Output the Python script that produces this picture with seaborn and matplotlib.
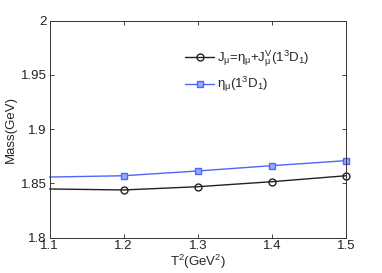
import matplotlib
matplotlib.use("Agg")
import matplotlib.pyplot as plt
import seaborn as sns
import pandas as pd

T2 = [1.1, 1.2, 1.3, 1.4, 1.5]
mass_J = [1.8449, 1.8440, 1.8470, 1.8516, 1.8571]
mass_eta = [1.8559, 1.8571, 1.8615, 1.8664, 1.8710]
label_J = r"J$_\mu$=$\eta_\mu$+J$_\mu^{\rm V}$(1$^3$D$_1$)"
label_eta = r"$\eta_\mu$(1$^3$D$_1$)"
xticks = [1.1, 1.2, 1.3, 1.4, 1.5]
yticks = [1.8, 1.85, 1.9, 1.95, 2.0]
yticklabels = ["1.8", "1.85", "1.9", "1.95", "2"]

sns.set_style("ticks")
plt.rcParams['font.family'] = ['Liberation Sans', 'DejaVu Sans']
plt.rcParams['mathtext.fontset'] = 'custom'
plt.rcParams['mathtext.rm'] = 'Liberation Sans'
plt.rcParams['mathtext.it'] = 'Liberation Sans'

fig = plt.figure(figsize=(3.82, 2.73), dpi=100)
ax = fig.add_axes([0.1296, 0.1293, 0.7762, 0.7949])

dfJ = pd.DataFrame({"x": T2, "y": mass_J})
dfE = pd.DataFrame({"x": T2, "y": mass_eta})
sns.lineplot(data=dfJ, x="x", y="y", ax=ax, color="#222222", lw=1.0,
             marker="o", markersize=5, markerfacecolor="none",
             markeredgecolor="#222222", markeredgewidth=1.0,
             markevery=[1, 2, 3, 4], label=label_J, clip_on=False)
sns.lineplot(data=dfE, x="x", y="y", ax=ax, color="#4d66ff", lw=1.0,
             marker="s", markersize=4.5, markerfacecolor="#9aa8ff",
             markeredgecolor="#4d66ff", markeredgewidth=1.0,
             markevery=[1, 2, 3, 4], label=label_eta, clip_on=False)

ax.set_xlim(1.1, 1.5)
ax.set_ylim(1.8, 2.0)
ax.set_xticks(xticks)
ax.set_xticklabels([f"{v:.1f}" for v in xticks])
ax.set_yticks(yticks)
ax.set_yticklabels(yticklabels)
ax.tick_params(direction="in", top=True, right=True, length=3, width=0.6,
               labelsize=9.5, pad=2, colors="#222222")
for s in ax.spines.values():
    s.set_linewidth(0.7)
    s.set_color("#333333")
ax.set_xlabel(r"T$^2$(GeV$^2$)", fontsize=9.5, labelpad=0)
ax.set_ylabel("Mass(GeV)", fontsize=9.5, labelpad=3)

leg = ax.legend(loc="upper left", bbox_to_anchor=(0.44, 0.895), frameon=False,
                fontsize=9.5, handlelength=2.2, handletextpad=0.2,
                labelspacing=0.45, borderaxespad=0)

fig.savefig("out.png", dpi=100)
